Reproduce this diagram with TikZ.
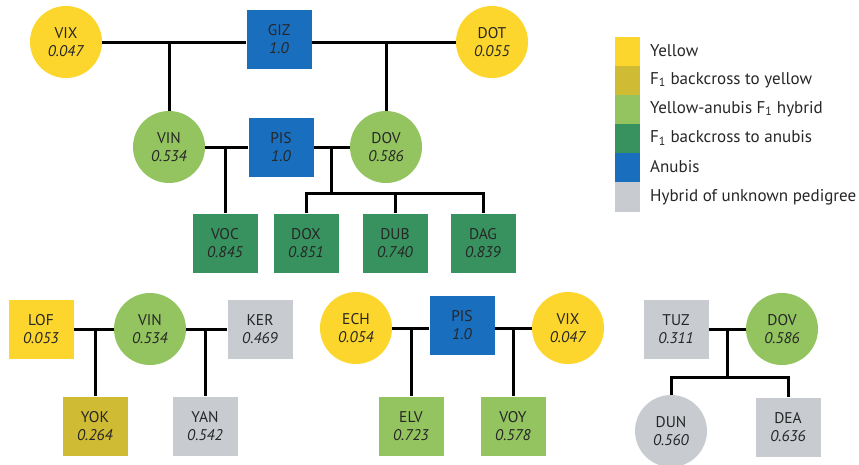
\documentclass[tikz,border=0pt]{standalone}
\usepackage{fontspec}
\setmainfont{PT Sans}
\usetikzlibrary{positioning, calc}
\definecolor{yellowSp}{RGB}{253, 214, 45}
\definecolor{backYellow}{RGB}{207, 187, 52}
\definecolor{hybridF}{RGB}{148, 196, 96}
\definecolor{backAnubis}{RGB}{56, 146, 96}
\definecolor{anubisSp}{RGB}{26, 110, 190}
\definecolor{unknownGr}{RGB}{200, 204, 208}
\newcommand{\baboon}[2]{#1\\\textit{#2}}

\begin{document}
\begin{tikzpicture}[x=1pt, y=-1pt,
    ind/.style={inner sep=0pt, align=center, text=black!85, font=\fontsize{15.5}{18}\selectfont},
    female/.style={ind, circle, minimum size=72pt},
    male/.style={ind, rectangle, minimum width=65pt, minimum height=59pt},
    key/.style={anchor=west, inner sep=0pt, text=black!85, font=\fontsize{17}{20}\selectfont},
    link/.style={line width=3pt}]
    \useasboundingbox (0,0) rectangle (859,464);

    % Pedigree principal
    \node[female, fill=yellowSp] (vixA) at (66,42) {\baboon{VIX}{0.047}};
    \node[male, fill=anubisSp] (giz) at (279,39) {\baboon{GIZ}{1.0}};
    \node[female, fill=yellowSp] (dot) at (492,42) {\baboon{DOT}{0.055}};

    \node[female, fill=hybridF] (vinA) at (169,147) {\baboon{VIN}{0.534}};
    \node[male, fill=anubisSp] (pisA) at (281,147) {\baboon{PIS}{1.0}};
    \node[female, fill=hybridF] (dovA) at (386,147) {\baboon{DOV}{0.586}};

    \node[male, fill=backAnubis] (voc) at (225,243) {\baboon{VOC}{0.845}};
    \node[male, fill=backAnubis] (dox) at (306,243) {\baboon{DOX}{0.851}};
    \node[male, fill=backAnubis] (dub) at (395,243) {\baboon{DUB}{0.740}};
    \node[male, fill=backAnubis] (dag) at (483,243) {\baboon{DAG}{0.839}};

    \draw[link] (vixA) -- (vixA -| giz.west);
    \draw[link] (giz.east |- dot) -- (dot);
    \coordinate (j1) at (vixA -| vinA);
    \coordinate (j2) at (dot -| dovA);
    \draw[link] (j1) -- (vinA);
    \draw[link] (j2) -- (dovA);

    \draw[link] (vinA) -- (pisA);
    \draw[link] (pisA) -- (dovA);
    \coordinate (j3) at (voc |- pisA);
    \draw[link] (j3) -- (voc);
    \coordinate (j4) at ($(pisA.east)!0.5!(dovA.west)$);
    \coordinate (j5) at ($(j4)+(0,46)$);
    \draw[link] (j4) -- (j5);
    \draw[link] (dox) |- (j5) -| (dag);
    \coordinate (j6) at (dub |- j5);
    \draw[link] (j6) -- (dub);

    % Familia de VIN
    \node[male, fill=yellowSp] (lof) at (41,329) {\baboon{LOF}{0.053}};
    \node[female, fill=hybridF] (vinB) at (150,329) {\baboon{VIN}{0.534}};
    \node[male, fill=unknownGr] (ker) at (260,329) {\baboon{KER}{0.469}};
    \node[male, fill=backYellow] (yok) at (95,426) {\baboon{YOK}{0.264}};
    \node[male, fill=unknownGr] (yan) at (205,426) {\baboon{YAN}{0.542}};

    \draw[link] (lof) -- (vinB);
    \draw[link] (vinB) -- (ker);
    \coordinate (j7) at (yok |- lof);
    \coordinate (j8) at (yan |- ker);
    \draw[link] (j7) -- (yok);
    \draw[link] (j8) -- (yan);

    % Familia de PIS
    \node[female, fill=yellowSp] (ech) at (356,328) {\baboon{ECH}{0.054}};
    \node[male, fill=anubisSp] (pisB) at (462,325) {\baboon{PIS}{1.0}};
    \node[female, fill=yellowSp] (vixB) at (568,328) {\baboon{VIX}{0.047}};
    \node[male, fill=hybridF] (elv) at (411,426) {\baboon{ELV}{0.723}};
    \node[male, fill=hybridF] (voy) at (513,426) {\baboon{VOY}{0.578}};

    \draw[link] (ech) -- (ech -| pisB.west);
    \draw[link] (pisB.east |- vixB) -- (vixB);
    \coordinate (j9) at (elv |- ech);
    \coordinate (j10) at (voy |- vixB);
    \draw[link] (j9) -- (elv);
    \draw[link] (j10) -- (voy);

    % Familia de DOV
    \node[male, fill=unknownGr] (tuz) at (676,329) {\baboon{TUZ}{0.311}};
    \node[female, fill=hybridF] (dovB) at (782,329) {\baboon{DOV}{0.586}};
    \node[female, fill=unknownGr] (dun) at (671,431) {\baboon{DUN}{0.560}};
    \node[male, fill=unknownGr] (dea) at (788,427) {\baboon{DEA}{0.636}};

    \draw[link] (tuz) -- (dovB);
    \coordinate (j11) at (727,329);
    \coordinate (j12) at (727,377);
    \draw[link] (j11) -- (j12);
    \draw[link] (dun) |- (j12) -| (dea);

    % Leyenda
    \fill[yellowSp] (615,37) rectangle (640,66);
    \fill[backYellow] (615,66) rectangle (640,95);
    \fill[hybridF] (615,95) rectangle (640,124);
    \fill[backAnubis] (615,124) rectangle (640,153);
    \fill[anubisSp] (615,153) rectangle (640,182);
    \fill[unknownGr] (615,182) rectangle (640,212);

    \node[key] (lg1) at (650,51) {Yellow};
    \node[key] (lg2) at (650,80) {F\textsubscript{1} backcross to yellow};
    \node[key] (lg3) at (650,109) {Yellow-anubis F\textsubscript{1} hybrid};
    \node[key] (lg4) at (650,138) {F\textsubscript{1} backcross to anubis};
    \node[key] (lg5) at (650,167) {Anubis};
    \node[key] (lg6) at (650,197) {Hybrid of unknown pedigree};
\end{tikzpicture}
\end{document}
